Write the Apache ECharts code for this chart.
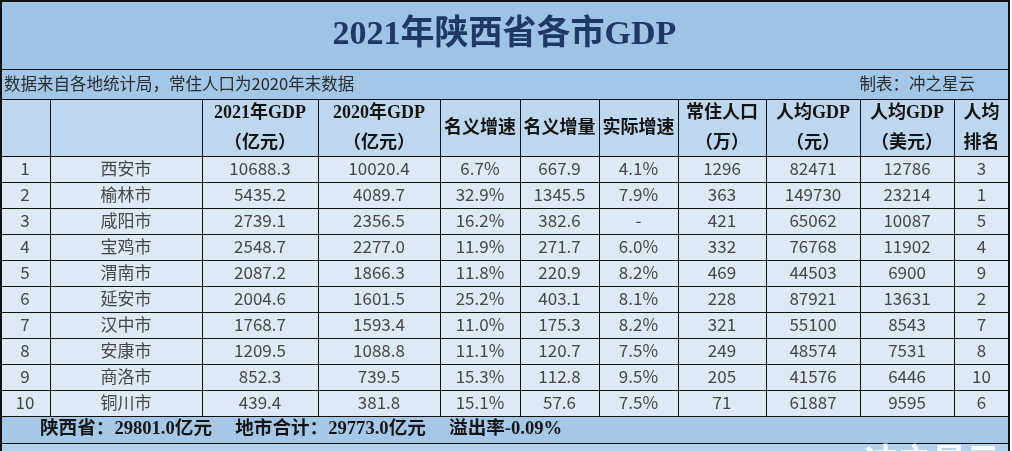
<!DOCTYPE html>
<html><head><meta charset="utf-8">
<script src="https://cdn.jsdelivr.net/npm/echarts@6/dist/echarts.min.js"></script>
<style>html,body{margin:0;padding:0;background:#fff}#c{width:1012px;height:451px}</style>
</head><body><div id="c"></div>
<script>
// ---------------- data ----------------
const titleText = '2021年陕西省各市GDP';
const sourceNote = '数据来自各地统计局，常住人口为2020年末数据';
const author = '制表：冲之星云';
const headers = ['', '', '2021年GDP\n（亿元）', '2020年GDP\n（亿元）', '名义增速', '名义增量', '实际增速', '常住人口\n（万）', '人均GDP\n（元）', '人均GDP\n（美元）', '人均\n排名'];
const cities = ['西安市','榆林市','咸阳市','宝鸡市','渭南市','延安市','汉中市','安康市','商洛市','铜川市'];
const gdp2021 = [10688.3,5435.2,2739.1,2548.7,2087.2,2004.6,1768.7,1209.5,852.3,439.4];
const gdp2020 = [10020.4,4089.7,2356.5,2277.0,1866.3,1601.5,1593.4,1088.8,739.5,381.8];
const nominalGrowth = [6.7,32.9,16.2,11.9,11.8,25.2,11.0,11.1,15.3,15.1];
const nominalIncrease = [667.9,1345.5,382.6,271.7,220.9,403.1,175.3,120.7,112.8,57.6];
const realGrowth = [4.1,7.9,null,6.0,8.2,8.1,8.2,7.5,9.5,7.5];
const population = [1296,363,421,332,469,228,321,249,205,71];
const perCapitaCNY = [82471,149730,65062,76768,44503,87921,55100,48574,41576,61887];
const perCapitaUSD = [12786,23214,10087,11902,6900,13631,8543,7531,6446,9595];
const perCapitaRank = [3,1,5,4,9,2,7,8,10,6];
const provinceGDP = 29801.0;
const citiesSumGDP = 29773.0;
const overflowRate = -0.09;
const watermark = '冲之星云';

// ---------------- layout / style ----------------
const COL_EDGES = [0,50,202,318,440,520,599,678,766,860,954,1009];
const RIGHT = COL_EDGES[COL_EDGES.length-1];
const Y_TITLE = [0,69], Y_SUB = [69,99], Y_HEAD = [99,156];
const ROW_H = 26;
const Y_FOOT = [Y_HEAD[1] + ROW_H*cities.length, Y_HEAD[1] + ROW_H*cities.length + 27];
const Y_NOTE = [Y_FOOT[1], Y_FOOT[1] + 40];

const C_TITLE = '#9dc3e6', C_SUB = '#a3c7e8', C_HEAD = '#bdd7ee', C_DATA = '#dde9f5', C_FOOT = '#a5c8e9', C_NOTE = '#b3d0ec';
const LINE = '#111';
const F_DATA = '17px "Noto Sans CJK SC", sans-serif';
const F_HEAD = 'bold 18px "Liberation Serif", "Noto Sans CJK SC", serif';
const F_TITLE = 'bold 34px "Liberation Serif", "Noto Sans CJK SC", serif';
const F_SUB = '16.5px "Noto Sans CJK SC", sans-serif';
const F_FOOT = 'bold 18.6px "Liberation Serif", "Noto Sans CJK SC", serif';

const cells = [];
function cell(x0,y0,x1,y1,o){ cells.push(Object.assign({x0,y0,x1,y1}, o)); }

// title
cell(0,Y_TITLE[0],RIGHT,Y_TITLE[1],{fill:C_TITLE, stroke:LINE, text:titleText, font:F_TITLE, color:'#1f3864', dy:1});
// subtitle
cell(0,Y_SUB[0],RIGHT,Y_SUB[1],{fill:C_SUB, stroke:LINE, text:sourceNote, font:F_SUB, color:'#2b2b2b', align:'left', pad:4});
cell(0,Y_SUB[0],975,Y_SUB[1],{text:author, font:F_SUB, color:'#2b2b2b', align:'right', pad:0});
// header
headers.forEach((h,j)=>{
  cell(COL_EDGES[j],Y_HEAD[0],COL_EDGES[j+1],Y_HEAD[1],{fill:C_HEAD, stroke:LINE, text:h, font:F_HEAD, color:'#141414', lh:30, dy:1});
});
// data rows
const fmt1 = v => v.toFixed(1);
const pct = v => v == null ? '-' : v.toFixed(1) + '%';
cities.forEach((city,i)=>{
  const row = [String(i+1), city, fmt1(gdp2021[i]), fmt1(gdp2020[i]), pct(nominalGrowth[i]), fmt1(nominalIncrease[i]),
               pct(realGrowth[i]), String(population[i]), String(perCapitaCNY[i]), String(perCapitaUSD[i]), String(perCapitaRank[i])];
  const y0 = Y_HEAD[1] + ROW_H*i;
  row.forEach((t,j)=>{
    cell(COL_EDGES[j],y0,COL_EDGES[j+1],y0+ROW_H,{fill:C_DATA, stroke:LINE, text:t, font:F_DATA, color:'#474747'});
  });
});
// footer
const footText = '陕西省：' + provinceGDP.toFixed(1) + '亿元\u3000 地市合计：' + citiesSumGDP.toFixed(1) + '亿元\u3000 溢出率' + overflowRate.toFixed(2) + '%';
cell(0,Y_FOOT[0],RIGHT,Y_FOOT[1],{fill:C_FOOT, stroke:LINE, text:footText, font:F_FOOT, color:'#151515', align:'left', pad:40});
// note row + watermark
cell(0,Y_NOTE[0],RIGHT,Y_NOTE[1],{fill:C_NOTE, stroke:LINE});
cell(0,Y_NOTE[0],1000,Y_NOTE[0]+44,{text:watermark, font:'bold 34px "Noto Sans CJK SC", sans-serif', color:'rgba(255,255,255,0.9)', align:'right', pad:0, dy:-5});
// outer border
cell(1,1,RIGHT,Y_NOTE[1],{stroke:LINE, lw:2});

function renderItem(params, api){
  const c = cells[params.dataIndex];
  const a = api.coord([c.x0,c.y0]), b = api.coord([c.x1,c.y1]);
  const ch = [];
  if (c.fill || c.stroke){
    const off = (c.lw||1) % 2 ? 0.5 : 0;
    ch.push({type:'rect', shape:{x:Math.round(a[0])+off, y:Math.round(a[1])+off, width:Math.round(b[0]-a[0]), height:Math.round(b[1]-a[1])},
      style:{fill:c.fill||'none', stroke:c.stroke||'none', lineWidth:c.lw||1}});
  }
  if (c.text){
    const al = c.align || 'center';
    const x = al==='left' ? a[0]+(c.pad||0) : al==='right' ? b[0]-(c.pad||0) : (a[0]+b[0])/2;
    ch.push({type:'text', x:x, y:(a[1]+b[1])/2 + (c.dy||0),
      style:{text:c.text, fill:c.color, font:c.font, align:al, verticalAlign:'middle', lineHeight:c.lh||undefined}});
  }
  return {type:'group', children:ch};
}

const chart = echarts.init(document.getElementById('c'), null, {renderer:'canvas'});
chart.setOption({
  animation:false,
  grid:{left:0,right:0,top:0,bottom:0},
  xAxis:{type:'value', min:0, max:1012, show:false},
  yAxis:{type:'value', min:0, max:451, inverse:true, show:false},
  series:[{type:'custom', silent:true, clip:false, renderItem:renderItem,
    data:cells.map(c=>[c.x0,c.y0,c.x1,c.y1]), encode:{x:[0,2], y:[1,3]}}]
});
</script></body></html>
